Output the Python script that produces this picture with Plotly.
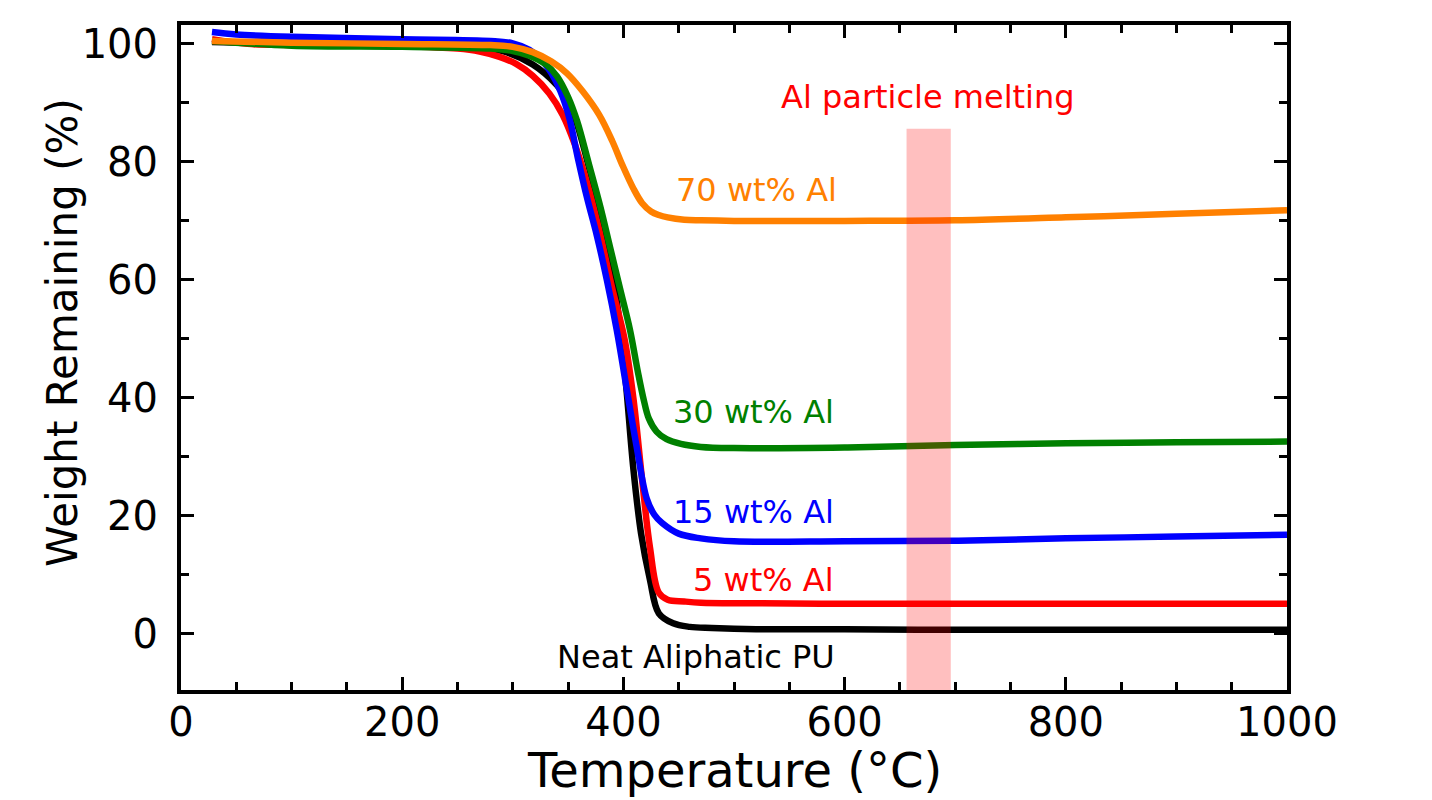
import plotly.graph_objects as go

# ---------------- data ----------------
temp_neat = [28, 100, 200, 250, 290, 318, 340, 350, 358, 369, 379, 388, 395, 402, 409, 416, 424, 432, 445, 460, 480, 520, 600, 700, 800, 900, 1000]
wt_neat = [100.3, 100.0, 99.8, 99.5, 98.8, 96.5, 93.0, 90.5, 86.5, 79.0, 71.5, 63.5, 55.0, 43.0, 28.0, 17.0, 9.2, 3.5, 1.8, 1.2, 1.0, 0.8, 0.8, 0.7, 0.7, 0.7, 0.7]

temp_5 = [28, 60, 100, 200, 250, 270, 288, 303, 318, 333, 345, 356, 367, 378, 390, 401, 409, 417, 424, 432, 440, 455, 470, 514, 600, 700, 800, 900, 1000]
wt_5 = [100.8, 100.0, 99.8, 99.6, 99.2, 98.7, 97.8, 96.6, 94.6, 91.6, 88.0, 83.0, 76.5, 68.5, 58.5, 50.0, 40.0, 26.0, 14.7, 7.0, 5.8, 5.5, 5.3, 5.2, 5.1, 5.1, 5.1, 5.1, 5.1]

temp_15 = [28, 50, 100, 200, 280, 300, 315, 325, 335, 343, 351, 359, 367, 376, 385, 394, 403, 412, 421, 428, 435, 450, 470, 500, 600, 700, 800, 900, 1000]
wt_15 = [102.0, 101.6, 101.2, 100.8, 100.5, 100.1, 99.0, 97.5, 95.0, 92.0, 87.5, 80.5, 74.0, 67.5, 60.0, 51.5, 41.5, 31.7, 23.0, 20.2, 18.8, 17.0, 16.2, 15.7, 15.7, 15.8, 16.2, 16.5, 16.8]

temp_30 = [28, 100, 200, 280, 300, 315, 330, 340, 350, 358, 369, 379, 388, 397, 406, 413, 418, 423, 430, 439, 452, 470, 500, 600, 700, 800, 900, 1000]
wt_30 = [100.5, 99.7, 99.5, 99.2, 98.8, 98.0, 96.5, 94.5, 91.0, 87.0, 79.5, 72.5, 65.5, 58.5, 51.5, 44.5, 40.0, 36.5, 34.3, 33.0, 32.2, 31.7, 31.5, 31.6, 32.0, 32.3, 32.5, 32.6]

temp_70 = [28, 100, 200, 280, 300, 318, 335, 349, 363, 378, 390, 399, 409, 417, 425, 432, 440, 455, 470, 500, 600, 700, 800, 900, 1000]
wt_70 = [100.5, 100.2, 100.0, 99.8, 99.5, 98.6, 97.0, 95.0, 92.0, 88.0, 83.5, 79.5, 75.5, 73.0, 71.6, 71.0, 70.6, 70.2, 70.1, 70.0, 70.0, 70.1, 70.6, 71.2, 71.8]

series_names = ["Neat Aliphatic PU", "5 wt% Al", "15 wt% Al", "30 wt% Al", "70 wt% Al"]
series_x = [temp_neat, temp_5, temp_15, temp_30, temp_70]
series_y = [wt_neat, wt_5, wt_15, wt_30, wt_70]
series_colors = ["#000000", "#FF0000", "#0000FF", "#008000", "#FF8000"]

# curve labels inside the plot: (text, x, y, colour)
curve_labels = [
    ("70 wt% Al", 520, 75.3, "#FF8000"),
    ("30 wt% Al", 518, 37.6, "#008000"),
    ("15 wt% Al", 518, 20.7, "#0000FF"),
    ("5 wt% Al", 527, 9.2, "#FF0000"),
    ("Neat Aliphatic PU", 466, -3.9, "#000000"),
]
# residue labels right of the plot
residue_labels = [
    ("72 wt%", 1070, 72.7, "#FF8000"),
    ("33 wt%", 1070, 32.4, "#008000"),
    ("17 wt%", 1064, 17.3, "#0000FF"),
    ("5 wt%", 1070, 8.3, "#FF0000"),
    ("<1 wt%", 1067, -0.5, "#000000"),
]
melt_band = (656, 696, 85.6)  # x0, x1, top
melt_label = ("Al particle melting", 675, 91.0)

x_ticks = [0, 200, 400, 600, 800, 1000]
y_ticks = [0, 20, 40, 60, 80, 100]
x_range = [0, 1000]
y_range = [-9.5, 103.2]

FONT = "DejaVu Sans"

fig = go.Figure()
for name, xs, ys, c in zip(series_names, series_x, series_y, series_colors):
    fig.add_trace(go.Scatter(x=xs, y=ys, mode="lines", name=name,
                             line=dict(color=c, width=6.5, shape="spline", smoothing=1.0)))

fig.add_shape(type="rect", xref="x", yref="y", x0=melt_band[0], x1=melt_band[1],
              y0=y_range[0], y1=melt_band[2], fillcolor="rgba(255,0,0,0.25)",
              line=dict(width=0), layer="above")

annotations = []
for t, x, y, c in curve_labels + residue_labels:
    annotations.append(dict(text=t, x=x, y=y, xref="x", yref="y", showarrow=False,
                            font=dict(family=FONT, size=32, color=c),
                            xanchor="center", yanchor="middle"))
annotations.append(dict(text=melt_label[0], x=melt_label[1], y=melt_label[2], xref="x", yref="y",
                        showarrow=False, font=dict(family=FONT, size=32, color="#FF0000"),
                        xanchor="center", yanchor="middle"))
annotations.append(dict(text="Weight Remaining (%)", x=-0.107, y=0.538, xref="paper", yref="paper",
                        textangle=-90, showarrow=False, font=dict(family=FONT, size=42, color="black"),
                        xanchor="center", yanchor="middle"))
annotations.append(dict(text="Temperature (°C)", x=0.5, y=-0.12, xref="paper", yref="paper",
                        showarrow=False, font=dict(family=FONT, size=48, color="black"),
                        xanchor="center", yanchor="middle"))

axis_common = dict(showline=True, linewidth=4, linecolor="black", mirror="ticks",
                   ticks="inside", ticklen=13, tickwidth=3, tickcolor="black",
                   showgrid=False, zeroline=False,
                   tickfont=dict(family=FONT, size=40, color="black"))

fig.update_xaxes(range=x_range, tickvals=x_ticks, ticklabelstandoff=-6,
                 minor=dict(dtick=50, tick0=0, ticks="inside", ticklen=8, tickwidth=3,
                            tickcolor="black", showgrid=False),
                 **axis_common)
fig.update_yaxes(range=y_range, tickvals=y_ticks, ticklabelstandoff=11,
                 minor=dict(dtick=10, tick0=0, ticks="inside", ticklen=8, tickwidth=3,
                            tickcolor="black", showgrid=False),
                 **axis_common)

fig.update_layout(width=1432, height=800, margin=dict(l=181, r=145, t=25, b=110),
                  plot_bgcolor="white", paper_bgcolor="white", showlegend=False,
                  annotations=annotations)

fig.write_html("out.html", config={"displayModeBar": False},
               post_script="document.body.style.margin='0';document.body.style.overflow='hidden';")
